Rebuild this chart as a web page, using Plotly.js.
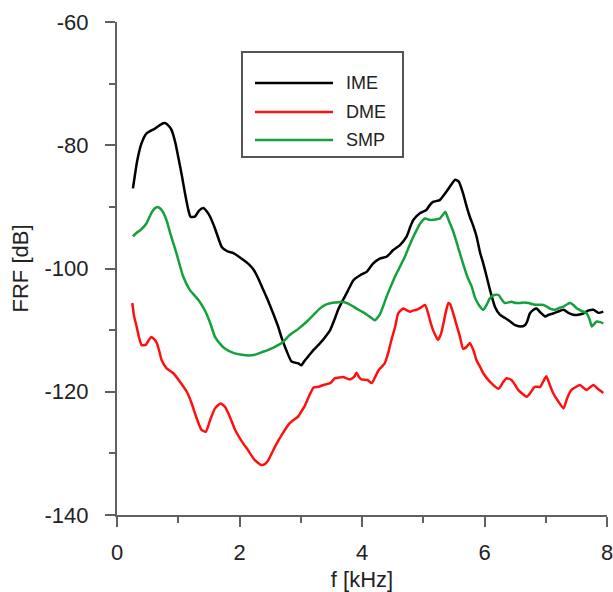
<!DOCTYPE html>
<html>
<head>
<meta charset="utf-8">
<script src="https://cdn.plot.ly/plotly-3.0.1.min.js"></script>
<style>html,body{margin:0;padding:0;background:#fff;}#chart{width:613px;height:592px;}</style>
</head>
<body>
<div id="chart"></div>
<script>
// Series names
const seriesNames = ["IME", "DME", "SMP"];

// IME (black)
const imeF = [0.26,0.33,0.40,0.48,0.62,0.72,0.78,0.84,0.89,0.95,1.00,1.06,1.11,1.16,1.20,1.27,1.34,1.41,1.47,1.52,1.60,1.71,1.80,1.90,1.98,2.06,2.15,2.23,2.31,2.39,2.47,2.55,2.63,2.69,2.77,2.85,2.96,3.01,3.06,3.12,3.21,3.29,3.40,3.48,3.55,3.61,3.68,3.75,3.86,3.97,4.08,4.18,4.29,4.40,4.51,4.62,4.73,4.79,4.84,4.95,5.05,5.10,5.16,5.27,5.38,5.45,5.52,5.58,5.65,5.71,5.76,5.82,5.87,5.93,5.98,6.04,6.09,6.17,6.25,6.33,6.42,6.50,6.58,6.66,6.70,6.74,6.80,6.85,6.92,6.99,7.05,7.12,7.20,7.29,7.37,7.45,7.53,7.61,7.70,7.78,7.86,7.94];
const imeV = [-87.0,-82.5,-79.7,-78.1,-77.3,-76.6,-76.4,-76.8,-77.5,-79.5,-81.9,-85.0,-87.8,-90.3,-91.6,-91.6,-90.6,-90.2,-90.8,-91.6,-93.5,-96.5,-97.2,-97.5,-98.0,-98.6,-99.3,-100.2,-101.7,-103.5,-105.3,-107.3,-109.4,-111.3,-113.4,-115.1,-115.4,-115.7,-115.0,-114.3,-113.2,-112.4,-111.1,-110.0,-108.3,-106.7,-105.3,-104.0,-101.9,-101.1,-100.5,-99.2,-98.4,-98.1,-97.0,-96.2,-94.8,-93.2,-92.1,-91.0,-90.5,-89.8,-89.2,-88.9,-87.5,-86.5,-85.6,-85.9,-87.8,-90.0,-91.6,-93.2,-94.8,-97.5,-99.2,-101.5,-103.5,-106.2,-107.5,-108.0,-108.6,-109.2,-109.4,-109.2,-108.5,-107.3,-106.7,-106.5,-107.2,-107.8,-107.5,-107.3,-107.0,-106.7,-107.2,-107.5,-107.5,-107.3,-106.8,-106.7,-107.2,-107.0];

// DME (red)
const dmeF = [0.25,0.28,0.32,0.36,0.40,0.47,0.52,0.56,0.61,0.65,0.69,0.73,0.81,0.92,1.03,1.14,1.22,1.30,1.38,1.45,1.52,1.60,1.69,1.76,1.84,1.93,2.04,2.14,2.25,2.36,2.42,2.47,2.58,2.69,2.82,2.96,3.01,3.07,3.14,3.21,3.29,3.37,3.48,3.56,3.62,3.69,3.80,3.87,3.91,3.95,3.99,4.09,4.16,4.22,4.27,4.37,4.43,4.48,4.54,4.59,4.67,4.72,4.78,4.84,4.89,4.95,5.03,5.08,5.12,5.16,5.24,5.29,5.33,5.37,5.41,5.44,5.49,5.55,5.60,5.65,5.70,5.76,5.82,5.87,5.93,5.98,6.09,6.23,6.30,6.36,6.44,6.50,6.55,6.69,6.76,6.82,6.91,6.96,7.01,7.07,7.12,7.20,7.29,7.35,7.42,7.56,7.62,7.67,7.72,7.78,7.86,7.94];
const dmeV = [-105.6,-107.8,-109.4,-111.2,-112.4,-112.4,-111.6,-111.1,-111.5,-112.1,-113.4,-114.9,-116.2,-117.0,-118.4,-120.0,-121.9,-124.3,-126.2,-126.5,-124.6,-122.7,-121.9,-122.4,-124.0,-126.2,-128.1,-129.5,-131.1,-131.9,-131.7,-131.1,-128.9,-127.0,-125.1,-124.0,-123.2,-122.2,-120.6,-119.3,-119.2,-118.9,-118.6,-117.8,-117.7,-117.6,-118.0,-117.6,-116.9,-117.6,-118.0,-118.1,-118.6,-117.5,-116.5,-115.4,-113.6,-111.6,-109.5,-107.3,-106.5,-106.7,-107.0,-106.8,-106.7,-106.4,-105.9,-107.3,-108.8,-110.0,-111.6,-110.6,-108.9,-107.0,-105.6,-105.8,-107.3,-109.4,-111.1,-113.0,-112.8,-112.1,-113.3,-114.9,-116.0,-117.0,-118.4,-119.5,-118.5,-117.8,-118.1,-118.9,-119.7,-120.8,-120.0,-119.2,-119.2,-118.3,-117.5,-119.0,-120.2,-121.5,-122.7,-121.0,-119.7,-118.9,-119.4,-119.7,-119.3,-118.9,-119.6,-120.2];

// SMP (green)
const smpF = [0.26,0.32,0.38,0.48,0.56,0.61,0.66,0.71,0.76,0.82,0.87,0.97,1.08,1.19,1.25,1.33,1.44,1.52,1.60,1.68,1.76,1.90,2.04,2.15,2.25,2.36,2.47,2.58,2.69,2.82,2.96,3.10,3.23,3.30,3.40,3.50,3.59,3.67,3.75,3.83,3.91,4.00,4.08,4.15,4.21,4.29,4.35,4.40,4.47,4.54,4.62,4.70,4.77,4.84,4.90,4.95,5.03,5.10,5.16,5.22,5.27,5.32,5.36,5.42,5.49,5.57,5.65,5.73,5.79,5.84,5.90,5.98,6.04,6.09,6.16,6.23,6.28,6.33,6.44,6.51,6.58,6.65,6.72,6.79,6.85,6.96,7.02,7.07,7.15,7.22,7.29,7.35,7.40,7.46,7.51,7.59,7.67,7.72,7.75,7.79,7.83,7.89,7.94];
const smpV = [-94.8,-94.2,-93.8,-92.7,-91.0,-90.3,-90.0,-90.3,-91.0,-92.5,-94.3,-97.5,-101.3,-103.5,-104.2,-105.1,-106.9,-108.8,-111.1,-112.2,-113.0,-113.7,-114.0,-114.1,-114.0,-113.6,-113.2,-112.7,-112.1,-110.8,-109.8,-108.6,-107.3,-106.6,-105.9,-105.6,-105.5,-105.4,-105.6,-106.0,-106.5,-107.0,-107.5,-108.0,-108.4,-107.5,-106.0,-104.6,-102.9,-101.3,-99.7,-98.1,-96.4,-94.8,-93.6,-92.7,-91.9,-92.1,-92.1,-92.0,-91.9,-91.3,-90.8,-92.3,-94.0,-96.6,-99.2,-101.6,-102.9,-104.6,-105.8,-106.7,-105.8,-104.8,-104.3,-104.3,-105.0,-105.6,-105.4,-105.6,-105.6,-105.5,-105.6,-105.8,-105.9,-105.9,-106.2,-106.5,-106.7,-106.4,-106.2,-105.8,-105.6,-106.0,-106.5,-106.9,-107.3,-108.4,-109.4,-109.0,-108.6,-108.7,-108.9];

// Axis ticks
const xTicks = [0, 2, 4, 6, 8];
const yTicks = [-140, -120, -100, -80, -60];

const colors = {IME: "#000000", DME: "#ff1010", SMP: "#14a03c"};
const FONT = "Liberation Sans, Arial, sans-serif";

const traces = [
  {x: imeF, y: imeV, name: seriesNames[0], type: "scatter", mode: "lines",
   line: {color: colors.IME, width: 2.5, shape: "spline", smoothing: 0.5}, showlegend: false},
  {x: dmeF, y: dmeV, name: seriesNames[1], type: "scatter", mode: "lines",
   line: {color: colors.DME, width: 2.5, shape: "spline", smoothing: 0.5}, showlegend: false},
  {x: smpF, y: smpV, name: seriesNames[2], type: "scatter", mode: "lines",
   line: {color: colors.SMP, width: 2.5, shape: "spline", smoothing: 0.5}, showlegend: false}
];

// plot area in px: x 117..607, y 22..515
const L = 117, R = 6, T = 22, B = 77, W = 613, H = 592;
const pw = W - L - R, ph = H - T - B;
const px = v => (v - L) / pw;
const py = v => (H - B - v) / ph;

const legendRows = [83, 112, 140];
const shapes = [
  {type: "rect", xref: "paper", yref: "paper", x0: px(242), x1: px(403), y0: py(157), y1: py(52),
   line: {color: "#555", width: 2}, fillcolor: "#fff", layer: "above"}
];
const annotations = [];
seriesNames.forEach((n, i) => {
  shapes.push({type: "line", xref: "paper", yref: "paper", x0: px(255), x1: px(333),
    y0: py(legendRows[i]), y1: py(legendRows[i]), line: {color: colors[n], width: 2.5}, layer: "above"});
  annotations.push({xref: "paper", yref: "paper", x: px(344), y: py(legendRows[i]), xanchor: "left", yanchor: "middle",
    text: n, showarrow: false, font: {family: FONT, size: 18, color: "#222"}});
});

const axisCommon = {
  showgrid: false, zeroline: false, showline: true, linecolor: "#606060", linewidth: 2,
  ticks: "outside", ticklen: 10, tickwidth: 2, tickcolor: "#606060",
  tickfont: {family: FONT, size: 22, color: "#222"},
  ticklabeloverflow: "allow",
  mirror: false
};

const layout = {
  width: W, height: H,
  margin: {l: L, r: R, t: T, b: B, pad: 0},
  paper_bgcolor: "#fff", plot_bgcolor: "#fff",
  showlegend: false,
  xaxis: Object.assign({}, axisCommon, {
    range: [0, 8], tickvals: xTicks, ticktext: xTicks.map(String),
    ticklabelstandoff: 7,
    minor: {dtick: 1, tick0: 0, ticklen: 6, tickwidth: 2, tickcolor: "#606060", ticks: "outside", showgrid: false},
    title: {text: "f [kHz]", standoff: 8, font: {family: FONT, size: 22, color: "#222"}}
  }),
  yaxis: Object.assign({}, axisCommon, {
    range: [-140, -60], tickvals: yTicks, ticktext: yTicks.map(String),
    ticklabelstandoff: 12,
    minor: {dtick: 10, tick0: -140, ticklen: 6, tickwidth: 2, tickcolor: "#606060", ticks: "outside", showgrid: false},
    title: {text: "FRF [dB]", standoff: 10, font: {family: FONT, size: 22, color: "#222"}}
  }),
  shapes: shapes,
  annotations: annotations
};

Plotly.newPlot("chart", traces, layout, {displayModeBar: false, staticPlot: true});
</script>
</body>
</html>
